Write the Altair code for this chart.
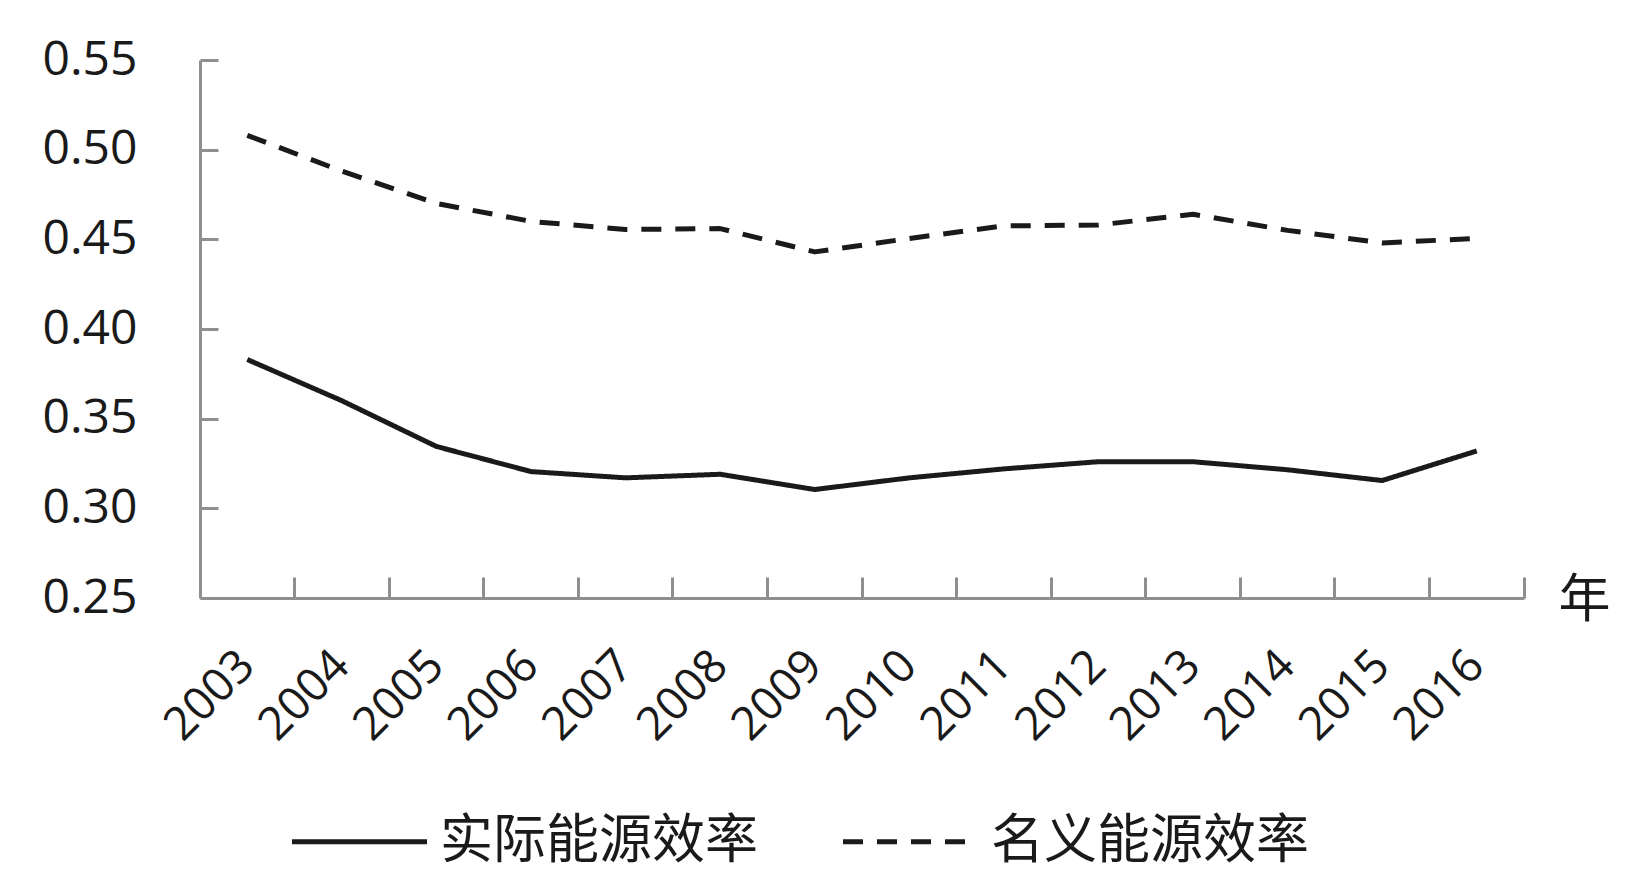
import altair as alt
import pandas as pd

years = [str(y) for y in range(2003, 2017)]
real_eff = [0.383, 0.360, 0.3345, 0.3205, 0.317, 0.319, 0.3105, 0.317, 0.322, 0.326, 0.326, 0.3215, 0.3155, 0.332]
nominal_eff = [0.508, 0.488, 0.470, 0.460, 0.4555, 0.456, 0.443, 0.4505, 0.4575, 0.458, 0.464, 0.455, 0.448, 0.4505]
series_names = ["实际能源效率", "名义能源效率"]
y_ticks = [0.25, 0.30, 0.35, 0.40, 0.45, 0.50, 0.55]

rows = []
for name, vals in zip(series_names, [real_eff, nominal_eff]):
    for y, v in zip(years, vals):
        rows.append({"year": y, "value": v, "series": name})
df = pd.DataFrame(rows)

W, H = 1324, 538
AXIS_GRAY = "#8f8f8f"
TEXT = "#1a1a1a"
NUM_FONT = "Open Sans"
CJK_FONT = "Noto Sans CJK SC"

xscale = alt.Scale(type="band", paddingInner=0, paddingOuter=0)
yscale = alt.Scale(domain=[0.25, 0.55], nice=False, zero=False)

lines = alt.Chart(df).mark_line(strokeWidth=5, color=TEXT, strokeJoin="round").encode(
    x=alt.X("year:O", scale=xscale, sort=years,
            axis=alt.Axis(orient="bottom", title="年", titleFont=CJK_FONT, titleFontSize=52,
                          titleFontWeight="normal", titleColor=TEXT, titleX=W + 34, titleY=2,
                          titleAlign="left", titleBaseline="middle", titleAngle=0,
                          labelAngle=-45, labelAlign="right", labelBaseline="middle",
                          labelPadding=60, labelFont=NUM_FONT, labelFontSize=46, labelColor=TEXT,
                          ticks=False, tickSize=0, domain=True, domainColor=AXIS_GRAY,
                          domainWidth=3, grid=False)),
    y=alt.Y("value:Q", scale=yscale,
            axis=alt.Axis(orient="left", title=None, values=y_ticks, format=".2f",
                          labelFont=NUM_FONT, labelFontSize=48, labelColor=TEXT,
                          labelPadding=63, labelBaseline="middle",
                          ticks=False, tickSize=0, domain=True, domainColor=AXIS_GRAY,
                          domainWidth=3, grid=False)),
    strokeDash=alt.StrokeDash("series:N", sort=series_names,
                              scale=alt.Scale(domain=series_names, range=[[1, 0], [20, 14]]),
                              legend=alt.Legend(orient="none", legendX=117, legendY=739,
                                                direction="horizontal", title=None,
                                                symbolType="M-1.6875,0H1.6875", symbolSize=6400,
                                                symbolStrokeWidth=5, symbolStrokeColor=TEXT,
                                                symbolFillColor="transparent",
                                                labelFont=CJK_FONT, labelFontSize=53,
                                                labelColor=TEXT, labelOffset=38,
                                                columnPadding=75, padding=0,
                                                labelLimit=500)),
)

ticks_layer = alt.Chart(df).mark_line(opacity=0).encode(
    x=alt.X("year:O", scale=xscale, sort=years,
            axis=alt.Axis(orient="top", offset=-H, title=None, labels=False, domain=False,
                          ticks=True, tickSize=21, tickWidth=3, tickColor=AXIS_GRAY,
                          bandPosition=1, grid=False)),
    y=alt.Y("value:Q", scale=yscale,
            axis=alt.Axis(orient="right", offset=-W, title=None, labels=False, domain=False,
                          values=y_ticks, ticks=True, tickSize=18, tickWidth=3,
                          tickColor=AXIS_GRAY, grid=False)),
)

chart = alt.layer(lines, ticks_layer).resolve_axis(x="independent", y="independent").properties(
    width=W, height=H,
    background="white",
    autosize=alt.AutoSizeParams(type="none"),
    padding={"left": 192, "top": 52, "right": 110, "bottom": 270},
).configure_view(stroke=None)

chart.save("out.html", embed_options={"renderer": "svg", "actions": False})
